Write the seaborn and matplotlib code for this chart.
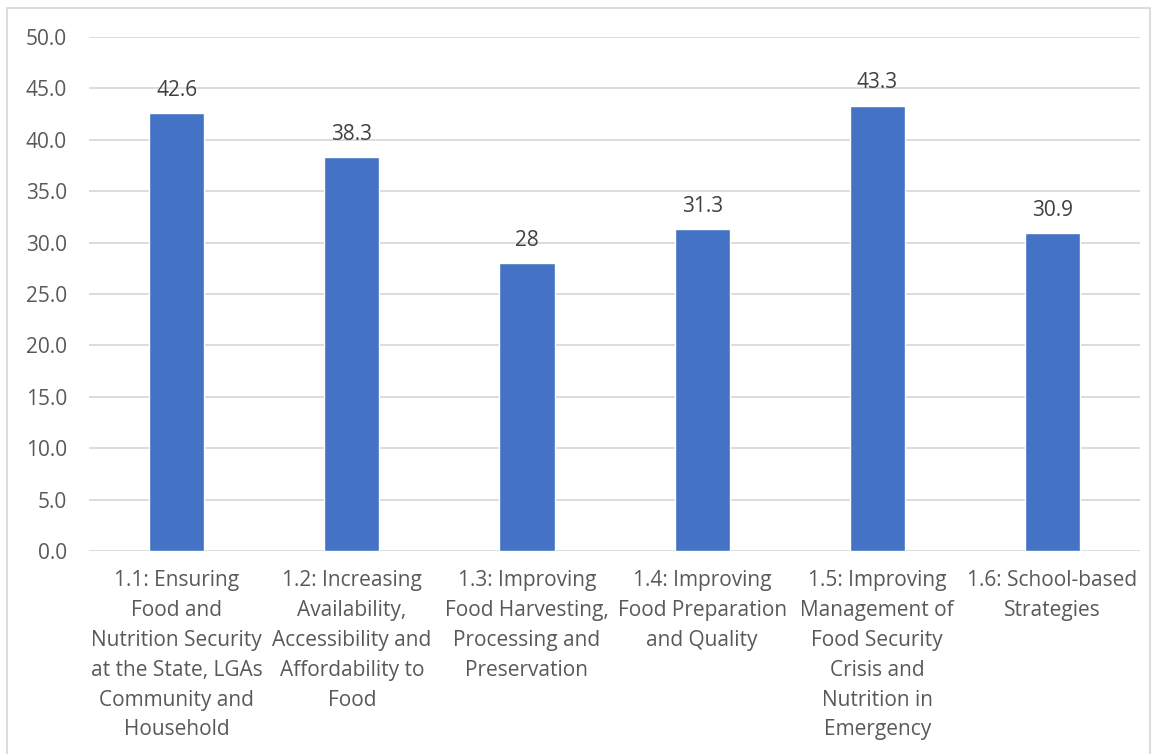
import matplotlib
matplotlib.use("Agg")
import matplotlib.pyplot as plt
import seaborn as sns
import pandas as pd
from matplotlib.patches import Rectangle

categories = [
    "1.1: Ensuring\nFood and\nNutrition Security\nat the State, LGAs\nCommunity and\nHousehold",
    "1.2: Increasing\nAvailability,\nAccessibility and\nAffordability to\nFood",
    "1.3: Improving\nFood Harvesting,\nProcessing and\nPreservation",
    "1.4: Improving\nFood Preparation\nand Quality",
    "1.5: Improving\nManagement of\nFood Security\nCrisis and\nNutrition in\nEmergency",
    "1.6: School-based\nStrategies",
]
values = [42.6, 38.3, 28, 31.3, 43.3, 30.9]
value_labels = ["42.6", "38.3", "28", "31.3", "43.3", "30.9"]
y_ticks = [0, 5, 10, 15, 20, 25, 30, 35, 40, 45, 50]

sns.set_theme(style="white")
plt.rcParams["font.family"] = ["Open Sans", "DejaVu Sans"]

df = pd.DataFrame({"strategy": categories, "score": values})

fig = plt.figure(figsize=(11.58, 7.54), dpi=100)
ax = fig.add_axes([0.0769, 0.2692, 0.9076, 0.6817])

sns.barplot(data=df, x="strategy", y="score", color="#4472C4", saturation=1,
            width=0.315, ax=ax, zorder=3)

ax.set_ylim(0, 50)
ax.set_yticks(y_ticks)
ax.set_yticklabels([f"{t:.1f}" for t in y_ticks])
ax.set_xlim(-0.5, len(categories) - 0.5)
ax.grid(axis="y", color="#D9D9D9", linewidth=1.3, zorder=0)
ax.grid(axis="x", visible=False)
for s in ax.spines.values():
    s.set_visible(False)
ax.set_xlabel("")
ax.set_ylabel("")
ax.tick_params(axis="y", length=0, pad=16, labelsize=15, labelcolor="#595959")
ax.tick_params(axis="x", length=0, pad=14, labelsize=15, labelcolor="#595959")
for lab in ax.get_xticklabels():
    lab.set_linespacing(1.55)
    lab.set_verticalalignment("top")

for patch, lbl in zip(ax.patches, value_labels):
    ax.annotate(lbl, (patch.get_x() + patch.get_width() / 2, patch.get_height()),
                xytext=(0, 9), textcoords="offset points", ha="center", va="bottom",
                fontsize=15, color="#404040")

# chart frame
fig.patches.append(Rectangle((7 / 1158, -0.01), (1150 - 7) / 1158, 1 - 8 / 754 + 0.01,
                             transform=fig.transFigure, fill=False,
                             edgecolor="#D9D9D9", linewidth=1.3))

fig.savefig("out.png", dpi=100, facecolor="white")
